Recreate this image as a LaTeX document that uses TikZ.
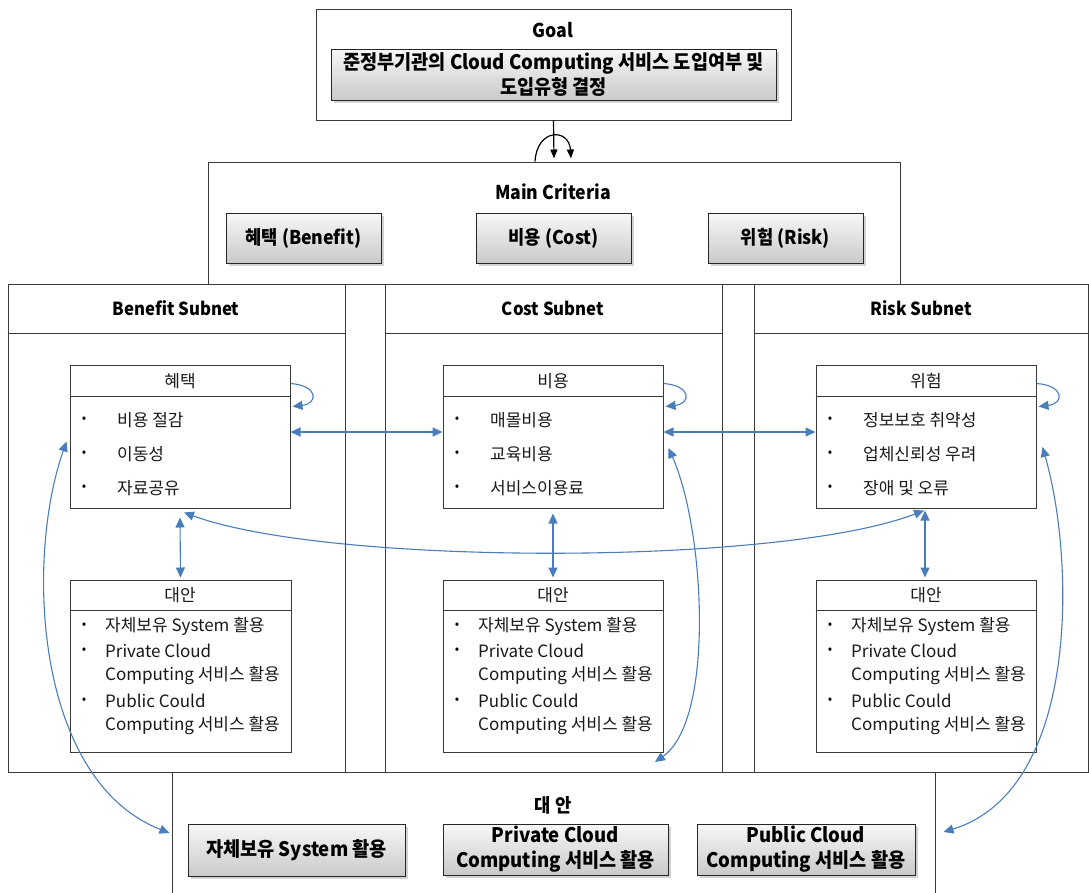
\documentclass[tikz,border=0pt]{standalone}
\usepackage{fontspec}
\setmainfont{Noto Sans CJK KR}
\newfontfamily\krc[FakeStretch=0.93]{Noto Sans CJK KR}
\usetikzlibrary{shadows,arrows.meta,calc}
\definecolor{arrowblue}{HTML}{4A7EBB}
\definecolor{linegray}{HTML}{3A3A3A}
\begin{document}
\begin{tikzpicture}[x=1pt,y=-1pt,
  frame/.style={draw=linegray, line width=1pt, fill=white, inner sep=0, minimum width=#1},
  btn/.style={draw=black!85, line width=0.9pt, top color=gray!6, bottom color=gray!42,
     drop shadow={shadow xshift=2.5pt,shadow yshift=-2.5pt,opacity=0.35},
     font=\krc\bfseries\fontsize{19}{25}\selectfont, align=center, inner sep=0},
  bigbtn/.style={btn, font=\krc\bfseries\fontsize{20}{25}\selectfont},
  ttl/.style={font=\krc\bfseries\fontsize{19}{25}\selectfont, inner sep=0},
  sub/.style={font=\krc\bfseries\fontsize{18}{22}\selectfont, inner sep=0},
  hdr/.style={font=\fontsize{17}{18}\selectfont, inner sep=0, text=black!90},
  item/.style={font=\fontsize{17}{18}\selectfont, anchor=west, inner sep=0, text=black!90},
  bul/.style={font=\fontsize{13}{18}\selectfont, inner sep=0},
  barrow/.style={draw=arrowblue, line width=1.1pt},
  >={Triangle[length=10pt,width=9pt]}
]
\useasboundingbox (0,0) rectangle (1089,892);

% bottom alternatives frame
\node[frame=763, minimum height=133] (alt) at (553.5,838.5) {};
% subnet frames
\node[frame=337, minimum height=488] (sB) at (176.5,528) {};
\node[frame=337, minimum height=488] (sC) at (553.5,528) {};
\node[frame=334, minimum height=488] (sR) at (921,528) {};
\draw[draw=linegray, line width=1pt] (sB.west |- 0,333) -- (sB.east |- 0,333);
\draw[draw=linegray, line width=1pt] (sC.west |- 0,333) -- (sC.east |- 0,333);
\draw[draw=linegray, line width=1pt] (sR.west |- 0,333) -- (sR.east |- 0,333);
\node[sub] (tB) at (176,308) {Benefit Subnet};
\node[sub] (tC) at (553,308) {Cost Subnet};
\node[sub] (tR) at (921,308) {Risk Subnet};

% main criteria frame
\node[frame=692, minimum height=122] (mc) at (554,223) {};
\node[ttl] (mct) at (553,192) {Main Criteria};
% goal frame
\node[frame=475, minimum height=111] (goal) at (553.5,64.5) {};
\node[ttl] (goalt) at (553,30) {Goal};
\node[bigbtn, minimum width=445, minimum height=51] (goalb) at (553.5,74.5)
  {준정부기관의 Cloud Computing 서비스 도입여부 및\\도입유형 결정};

% criteria buttons
\node[btn, minimum width=155, minimum height=50] (cB) at (303.5,238) {혜택 (Benefit)};
\node[btn, minimum width=155, minimum height=50] (cC) at (553.5,238) {비용 (Cost)};
\node[btn, minimum width=155, minimum height=50] (cR) at (785.5,238) {위험 (Risk)};

% inner criteria boxes
\node[frame=220, minimum height=143] (ben) at (180,436.5) {};
\node[frame=220, minimum height=143] (cst) at (553,436.5) {};
\node[frame=220, minimum height=143] (rsk) at (926,436.5) {};
\foreach \b in {ben,cst,rsk}{
  \draw[draw=linegray, line width=1pt] (\b.west |- 0,396) -- (\b.east |- 0,396);
}
\node[hdr] (hB) at (180,381) {혜택};
\node[hdr] (hC) at (553,381) {비용};
\node[hdr] (hR) at (926,381) {위험};
\foreach \x/\a/\b/\c in {0/비용 절감/이동성/자료공유, 373/매몰비용/교육비용/서비스이용료, 746/정보보호 취약성/업체신뢰성 우려/장애 및 오류}{
  \node[bul] at (84+\x,420) {•};
  \node[bul] at (84+\x,454) {•};
  \node[bul] at (84+\x,488) {•};
  \node[item] at (117+\x,420) {\a};
  \node[item] at (117+\x,454) {\b};
  \node[item] at (117+\x,488) {\c};
}

% inner alternative boxes
\node[frame=221, minimum height=172] (aB) at (180.5,666) {};
\node[frame=220, minimum height=172] (aC) at (553,666) {};
\node[frame=220, minimum height=172] (aR) at (926,666) {};
\foreach \b in {aB,aC,aR}{
  \draw[draw=linegray, line width=1pt] (\b.west |- 0,610) -- (\b.east |- 0,610);
}
\node[hdr] (haB) at (180,595) {대안};
\node[hdr] (haC) at (553,595) {대안};
\node[hdr] (haR) at (926,595) {대안};
\foreach \x in {0,373,746}{
  \node[bul] at (84+\x,626) {•};
  \node[bul] at (84+\x,651) {•};
  \node[bul] at (84+\x,701) {•};
  \node[item] at (105+\x,626) {자체보유 System 활용};
  \node[item] at (105+\x,651) {Private Cloud};
  \node[item] at (105+\x,676) {Computing 서비스 활용};
  \node[item] at (105+\x,701) {Public Could};
  \node[item] at (105+\x,726) {Computing 서비스 활용};
}

% bottom alternatives
\node[ttl] (altt) at (553,805) {대 안};
\node[bigbtn, minimum width=217, minimum height=52] (b1) at (296.5,850) {자체보유 System 활용};
\node[bigbtn, minimum width=225, minimum height=51] (b2) at (555.5,849.5) {Private Cloud\\Computing 서비스 활용};
\node[bigbtn, minimum width=218, minimum height=51] (b3) at (806,849.5) {Public Cloud\\Computing 서비스 활용};

% goal -> main criteria arrows
\draw[line width=1.2pt, -{Triangle[length=9pt,width=7pt]}] (goal.south) -- ([yshift=3]mc.north);
\draw[line width=1.2pt, -{Triangle[length=9pt,width=7pt]}] ([xshift=-19]mc.north)
  .. controls (537,128) and (569,128) .. ([xshift=17,yshift=3]mc.north);

% self loops
\foreach \b in {ben,cst,rsk}{
  \draw[barrow,->] ([yshift=-19]\b.north east) .. controls +(28,2) and +(26,-3) .. ([xshift=2,yshift=-42]\b.north east);
}
% horizontal links
\draw[barrow,<->] ([yshift=4.5]ben.east) -- ([yshift=4.5]cst.west);
\draw[barrow,<->] ([yshift=4.5]cst.east) -- ([yshift=4.5]rsk.west);
% vertical links
\draw[barrow,<->] ([yshift=-9]ben.south) -- ([yshift=2]aB.north);
\draw[barrow,<->] ([yshift=-5]cst.south) -- ([yshift=2]aC.north);
\draw[barrow,<->] ([xshift=-1,yshift=-2]rsk.south) -- ([xshift=-1,yshift=2]aR.north);
% benefit-risk sag
\draw[barrow,<->] ([xshift=4,yshift=-4]ben.south) .. controls (330,566) and (780,566) .. ([xshift=-2,yshift=-2]rsk.south);
% long curves
\draw[barrow,<->] ([xshift=-3,yshift=-5]ben.west) .. controls (25,560) and (35,780) .. ([xshift=-2,yshift=5.5]alt.west);
\coordinate (cend) at (655,762);
\draw[barrow,<->] ([xshift=5,yshift=-11.5]cst.east) .. controls (705,530) and (715,720) .. (cend);
\draw[barrow,<->] ([xshift=6,yshift=-10.5]rsk.east) .. controls (1075,560) and (1080,790) .. ([xshift=8,yshift=6.5]alt.east);
\end{tikzpicture}
\end{document}
